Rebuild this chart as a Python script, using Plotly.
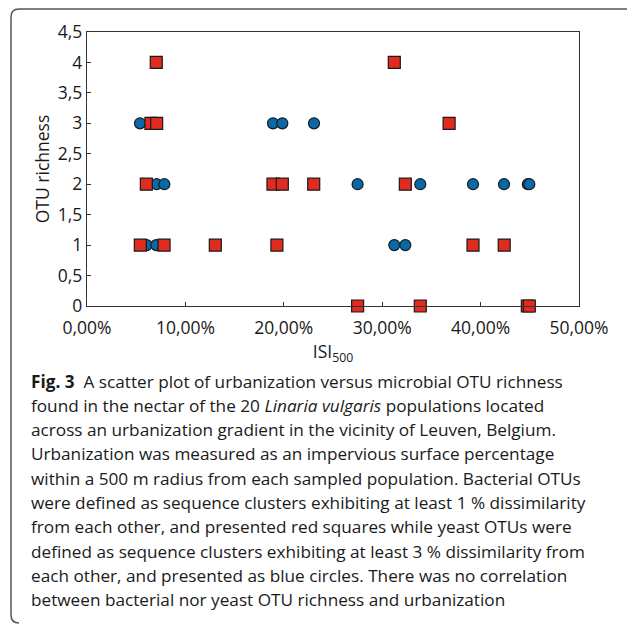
import plotly.graph_objects as go

# Bacterial OTU richness (red squares): ISI500 (%) and richness
bact_x = [7.04, 31.23, 6.5, 7.08, 36.8, 6.03, 18.9, 19.85, 23.04, 32.35,
          5.42, 7.83, 13.04, 19.3, 39.23, 42.4, 27.5, 33.87, 44.75, 44.95]
bact_y = [4, 4, 3, 3, 3, 2, 2, 2, 2, 2, 1, 1, 1, 1, 1, 1, 0, 0, 0, 0]

# Yeast OTU richness (blue circles)
yeast_x = [5.39, 18.9, 19.85, 23.07, 7.08, 7.86, 27.5, 33.87, 39.23, 42.38,
           44.8, 44.95, 6.06, 7.04, 31.23, 32.35]
yeast_y = [3, 3, 3, 3, 2, 2, 2, 2, 2, 2, 2, 2, 1, 1, 1, 1]

x_tickvals = [0, 10, 20, 30, 40, 50]
x_ticktext = ["0,00%", "10,00%", "20,00%", "30,00%", "40,00%", "50,00%"]
y_tickvals = [0, 0.5, 1, 1.5, 2, 2.5, 3, 3.5, 4, 4.5]
y_ticktext = ["0", "0,5", "1", "1,5", "2", "2,5", "3", "3,5", "4", "4,5"]

caption_lines = [
    "<b>Fig. 3</b>  A scatter plot of urbanization versus microbial OTU richness",
    "found in the nectar of the 20 <i>Linaria vulgaris</i> populations located",
    "across an urbanization gradient in the vicinity of Leuven, Belgium.",
    "Urbanization was measured as an impervious surface percentage",
    "within a 500 m radius from each sampled population. Bacterial OTUs",
    "were defined as sequence clusters exhibiting at least 1 % dissimilarity",
    "from each other, and presented red squares while yeast OTUs were",
    "defined as sequence clusters exhibiting at least 3 % dissimilarity from",
    "each other, and presented as blue circles. There was no correlation",
    "between bacterial nor yeast OTU richness and urbanization",
]

W, H = 627, 636
L, R, T, B = 87, 579, 32, 306
pw, ph = R - L, B - T

def px(x):
    return (x - L) / pw

def py(y):
    return (B - y) / ph

FONT = "Open Sans"
TXT = "#1a1a1a"

fig = go.Figure()
fig.add_trace(go.Scatter(
    x=yeast_x, y=yeast_y, mode="markers", cliponaxis=False,
    marker=dict(symbol="circle", size=11, color="#0868A8",
                line=dict(color="#1a1a1a", width=1.2)),
    name="Yeast OTUs", showlegend=False))
fig.add_trace(go.Scatter(
    x=bact_x, y=bact_y, mode="markers", cliponaxis=False,
    marker=dict(symbol="square", size=12, color="#E02B1E",
                line=dict(color="#1a1a1a", width=1.2)),
    name="Bacterial OTUs", showlegend=False))

axis_common = dict(showline=True, linecolor="#333", linewidth=1.3, mirror=True,
                   ticks="inside", ticklen=4, tickcolor="#333", tickwidth=1,
                   showgrid=False, zeroline=False,
                   tickfont=dict(family=FONT, size=17.5, color=TXT))

fig.update_xaxes(range=[0, 50], tickvals=x_tickvals, ticktext=x_ticktext,
                 ticklabelstandoff=6,
                 title=dict(text="ISI<sub>500</sub>", standoff=0,
                            font=dict(family=FONT, size=17.5, color=TXT)),
                 **axis_common)
fig.update_yaxes(range=[0, 4.5], tickvals=y_tickvals, ticktext=y_ticktext,
                 title=dict(text="OTU richness", standoff=3,
                            font=dict(family=FONT, size=17.5, color=TXT)),
                 **axis_common)

# frame around figure (rounded corners on the left)
rx, ry = 8 / pw, 8 / ph
x0, xr = px(11), px(627)
yt, yb = py(9), py(623)
path = (f"M {xr},{yt} L {x0 + rx},{yt} Q {x0},{yt} {x0},{yt - ry} "
        f"L {x0},{yb + ry} Q {x0},{yb} {x0 + rx},{yb}")
fig.add_shape(type="path", path=path, xref="paper", yref="paper",
              line=dict(color="#555", width=1.5))

for i, line in enumerate(caption_lines):
    fig.add_annotation(text=line, xref="paper", yref="paper",
                       x=px(29), y=py(381 + i * 24.3),
                       xanchor="left", yanchor="middle", showarrow=False,
                       font=dict(family=FONT, size=17.2, color=TXT))

fig.update_layout(width=W, height=H,
                  margin=dict(l=L, r=W - R, t=T, b=H - B),
                  plot_bgcolor="white", paper_bgcolor="white",
                  showlegend=False)

fig.write_html("out.html")
